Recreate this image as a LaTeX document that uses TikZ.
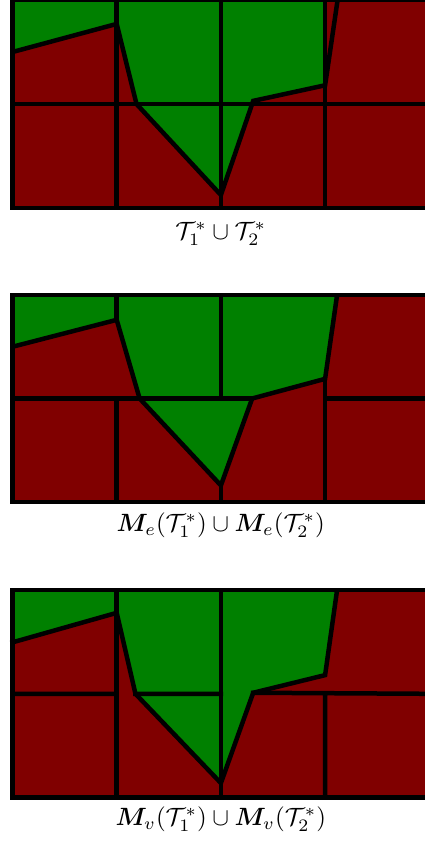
\documentclass[tikz,border=0pt]{standalone}
\usepackage{amsmath,bm}
\definecolor{gr}{RGB}{0,128,0}
\definecolor{rd}{RGB}{128,0,0}
\tikzset{
  meshline/.style={line width=4.5pt, line cap=rect, line join=miter},
  edgeline/.style={line width=4.5pt, line cap=butt, line join=miter},
  caplabel/.style={scale=2.5, inner sep=0pt},
  redfill/.style={fill=rd},
  greenfill/.style={fill=gr}
}
\begin{document}
\begin{tikzpicture}[x=1pt,y=-1pt]
\useasboundingbox (0,0) rectangle (425,844);
\clip (0,0) rectangle (425,844);

% ---------- panel 1 ----------
\begin{scope}[shift={(12.5pt,0pt)},x=104.2pt,y=-104pt]
\coordinate (a1) at (0,0.5);
\coordinate (b1) at (1,0.23);
\coordinate (c1) at (1.19,1);
\coordinate (d1) at (2,1.875);
\coordinate (e1) at (2.31,0.97);
\coordinate (f1) at (3,0.82);
\coordinate (g1) at (3.12,0);
\path[redfill] (0,0) rectangle (4,2);
\path[greenfill] (0,0) -- (1,0) -- (b1) -- (a1) -- cycle;
\path[greenfill] (1,0) -- (b1) -- (c1) -- (d1) -- (e1) -- (f1) -- (3,0) -- cycle;
\draw[meshline] (0,0) rectangle (4,2);
\draw[meshline] (1,0) -- (1,2) (2,0) -- (2,2) (3,0) -- (3,2) (0,1) -- (4,1);
\draw[edgeline] (a1) -- (b1);
\draw[edgeline] (b1) -- (c1) -- (d1) -- (e1) -- (f1) -- (g1);
\end{scope}
\node[caplabel] (t1) at (220.8,234) {$\mathcal{T}_1^*\cup\mathcal{T}_2^*$};

% ---------- panel 2 ----------
\begin{scope}[shift={(12.5pt,-295pt)},x=104.2pt,y=-103.5pt]
\coordinate (a2) at (0,0.5);
\coordinate (b2) at (1,0.24);
\coordinate (c2) at (1.22,1);
\coordinate (d2) at (2,1.84);
\coordinate (e2) at (2.3,1);
\coordinate (f2) at (3,0.81);
\coordinate (g2) at (3.115,0);
\path[redfill] (0,0) rectangle (4,2);
\path[greenfill] (0,0) -- (1,0) -- (b2) -- (a2) -- cycle;
\path[greenfill] (1,0) -- (b2) -- (c2) -- (d2) -- (e2) -- (f2) -- (g2) -- cycle;
\draw[meshline] (0,0) rectangle (4,2);
\draw[edgeline] (a2) -- (b2);
\draw[meshline] (1,0) -- (b2);
\draw[edgeline] (b2) -- (c2) -- (d2) -- (e2) -- (f2) -- (g2);
\draw[meshline] (0,1) -- (c2) -- (e2);
\draw[meshline] (2,0) -- (2,1) (d2) -- (2,2) (1,1) -- (1,2) (f2) -- (3,2) (3,1) -- (4,1);
\end{scope}
\node[caplabel] (t2) at (220.8,525) {$\bm{M}_e(\mathcal{T}_1^*)\cup\bm{M}_e(\mathcal{T}_2^*)$};

% ---------- panel 3 ----------
\begin{scope}[shift={(12.5pt,-590pt)},x=104.2pt,y=-103.8pt]
\coordinate (a3) at (-0.02,0.51);
\coordinate (b3) at (1,0.22);
\coordinate (c3) at (1.18,1);
\coordinate (d3) at (2,1.86);
\coordinate (e3) at (2.31,0.99);
\coordinate (f3) at (3,0.82);
\coordinate (g3) at (3.115,0);
\path[redfill] (0,0) rectangle (4,2);
\path[greenfill] (0,0) -- (1,0) -- (b3) -- (a3) -- cycle;
\path[greenfill] (1,0) -- (b3) -- (c3) -- (d3) -- (e3) -- (f3) -- (g3) -- cycle;
\draw[meshline] (0,0) rectangle (4,2);
\draw[edgeline] (a3) -- (b3);
\draw[meshline] (1,0) -- (1,2) (2,0) -- (2,2);
\draw[edgeline] (b3) -- (c3) -- (d3) -- (e3) -- (f3) -- (g3);
\draw[meshline] (0,1) -- (1,1) (c3) -- (2,1) (e3) -- (4,1) (3,1) -- (3,2);
\end{scope}
\node[caplabel] (t3) at (220.8,819) {$\bm{M}_v(\mathcal{T}_1^*)\cup\bm{M}_v(\mathcal{T}_2^*)$};
\end{tikzpicture}
\end{document}
